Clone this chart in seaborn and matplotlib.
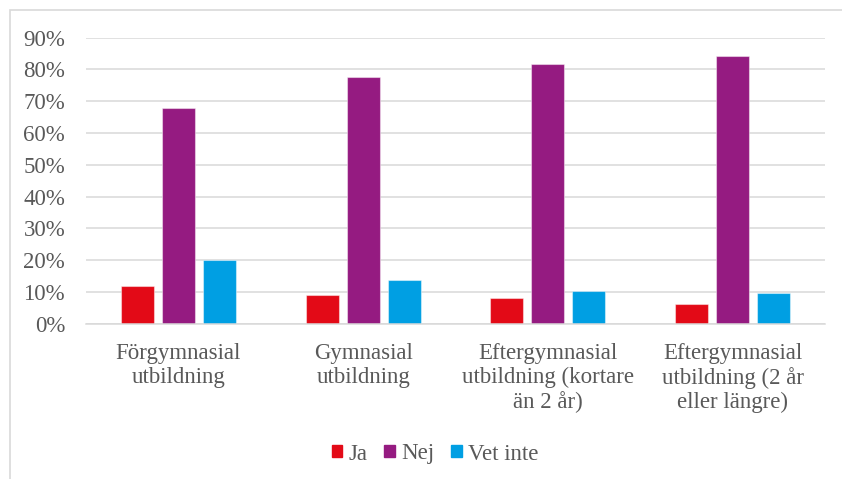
import matplotlib
matplotlib.use("Agg")
import matplotlib.pyplot as plt
import matplotlib.patches as mpatches
import seaborn as sns
import pandas as pd

categories = [
    "Förgymnasial\nutbildning",
    "Gymnasial\nutbildning",
    "Eftergymnasial\nutbildning (kortare\nän 2 år)",
    "Eftergymnasial\nutbildning (2 år\neller längre)",
]
series_names = ["Ja", "Nej", "Vet inte"]
ja = [0.12, 0.09, 0.08, 0.061]
nej = [0.68, 0.777, 0.816, 0.842]
vet_inte = [0.20, 0.138, 0.104, 0.096]
colors = ["#E30A17", "#951B81", "#009FE3"]
yticks = [0.0, 0.1, 0.2, 0.3, 0.4, 0.5, 0.6, 0.7, 0.8, 0.9]
ytick_labels = ["0%", "10%", "20%", "30%", "40%", "50%", "60%", "70%", "80%", "90%"]

rows = []
for name, vals in zip(series_names, [ja, nej, vet_inte]):
    for cat, v in zip(categories, vals):
        rows.append({"Kategori": cat, "Svar": name, "Andel": v})
df = pd.DataFrame(rows)

sns.set_theme(style="white")
plt.rcParams["font.family"] = ["Liberation Serif", "DejaVu Serif"]
text_color = "#595959"

W, H = 842, 479
fig = plt.figure(figsize=(W / 100, H / 100), dpi=100)
ax_left, ax_right = 86, 825
ax_bottom, ax_top = 323.7, 37.7
ax = fig.add_axes([ax_left / W, (H - ax_bottom) / H,
                   (ax_right - ax_left) / W, (ax_bottom - ax_top) / H])

sns.barplot(data=df, x="Kategori", y="Andel", hue="Svar",
            hue_order=series_names, palette=colors, order=categories,
            width=0.666, gap=0.2, saturation=1, ax=ax, legend=False,
            edgecolor=(1, 1, 1, 0.45), linewidth=0.8)

ax.set_ylim(0, 0.9)
ax.set_xlim(-0.5, len(categories) - 0.5)
ax.set_yticks(yticks)
ax.set_yticklabels(ytick_labels)
ax.yaxis.grid(True, color="#D9D9D9", linewidth=1.1)
ax.set_axisbelow(True)
for s in ["left", "right", "top"]:
    ax.spines[s].set_visible(False)
ax.spines["bottom"].set_color("#D9D9D9")
ax.spines["bottom"].set_linewidth(1.1)
ax.set_xlabel("")
ax.set_ylabel("")
ax.tick_params(axis="y", labelsize=16.5, colors=text_color, length=0, pad=15)
ax.tick_params(axis="x", labelsize=16.5, colors=text_color, length=0, pad=14)
for lbl in ax.get_xticklabels():
    lbl.set_linespacing(1.17)

handles = [mpatches.Patch(color=c, label=n) for c, n in zip(colors, series_names)]
fig.legend(handles=handles, loc="center", bbox_to_anchor=(0.517, 1 - 454 / H),
           ncol=3, frameon=False, fontsize=16.5, labelcolor=text_color,
           handlelength=0.45, handleheight=0.45, handletextpad=0.3,
           columnspacing=0.72)

# light frame around the chart area
frame = mpatches.Rectangle((9.5 / W, -0.05), 1.0, 1 - 9.5 / H + 0.05,
                           transform=fig.transFigure, fill=False,
                           edgecolor="#D9D9D9", linewidth=1.2)
fig.patches.append(frame)

fig.savefig("out.png", dpi=100)
